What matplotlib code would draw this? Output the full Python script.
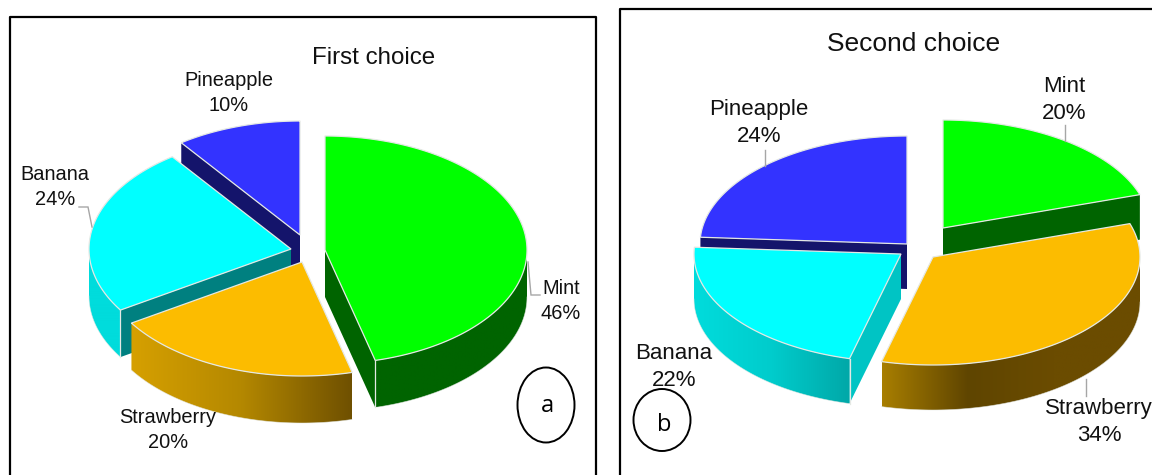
"""Two exploded 3D-look pies: first and second flavour choice."""

import numpy as np
import matplotlib

matplotlib.use("Agg")

import matplotlib.pyplot as plt
from matplotlib.colors import LinearSegmentedColormap
from matplotlib.patches import Ellipse, Polygon

plt.rcParams["font.family"] = ["Liberation Sans", "DejaVu Sans"]

# values, in drawing order clockwise from 12 o'clock
FLAVOURS = ["Mint", "Strawberry", "Banana", "Pineapple"]
FIRST_CHOICE = [46, 20, 24, 10]
SECOND_CHOICE = [20, 34, 22, 24]

TOP = {"Mint": "#00ff00", "Strawberry": "#fcbc00", "Banana": "#00ffff", "Pineapple": "#3333ff"}
FACE = {"Mint": "#006400", "Strawberry": "#7a5800", "Banana": "#008080", "Pineapple": "#14146b"}

EDGE = "#e4e8e4"
LEADER = "#a6a6a6"
DEPTH = 47
RX_A, RY_A = 202, 114
RX_B, RY_B = 207, 108

# layout in picture pixels: where each slice's tip landed after the explosion
TIPS_A = {"Mint": (325, 250), "Strawberry": (302, 262), "Banana": (291, 249), "Pineapple": (300, 235)}
TIPS_B = {"Mint": (943, 228), "Strawberry": (933, 257), "Banana": (901, 254), "Pineapple": (907, 244)}
PAINT_A = ["Pineapple", "Banana", "Mint", "Strawberry"]
PAINT_B = ["Mint", "Pineapple", "Banana", "Strawberry"]

# wall shades run left to right across the picture
WALLS_A = {
    "Mint": ["#006400", "#006400"],
    "Strawberry": ["#d6a000", "#b48800", "#6f5000"],
    "Banana": ["#00dcdc", "#00dcdc"],
    "Pineapple": ["#14146b", "#14146b"],
}
WALLS_B = {
    "Mint": ["#006400", "#006400"],
    "Strawberry": ["#a87e00", "#5f4500", "#6b4c00", "#6b4c00"],
    "Banana": ["#00dcdc", "#00cccc", "#00a8a8"],
    "Pineapple": ["#14146b", "#14146b"],
}
FACES_B = dict(FACE, Banana="#00c4c4")


def rim(tip, rx, ry, deg):
    rad = np.radians(deg)
    return np.column_stack([tip[0] + rx * np.sin(rad), tip[1] - ry * np.cos(rad)])


def face_visible(rx, ry, edge_deg, mid_deg):
    e = rim((0, 0), rx, ry, edge_deg)[0]
    m = rim((0, 0), rx, ry, mid_deg)[0]
    if abs(e[0]) < 1e-6:
        return False
    return m[1] < e[1] / e[0] * m[0]


def draw_slice(ax, tip, start, stop, rx, ry, depth, top, face, wall, z):
    mid = (start + stop) / 2
    # radial cut faces
    for edge_deg in (start, stop):
        if face_visible(rx, ry, edge_deg, mid):
            p = rim(tip, rx, ry, edge_deg)[0]
            ax.add_patch(Polygon(
                [tip, p, (p[0], p[1] + depth), (tip[0], tip[1] + depth)],
                closed=True, facecolor=face, edgecolor="none", zorder=z))

    # outer wall, only the front half of the rim shows
    lo, hi = max(start, 90), min(stop, 270)
    if hi > lo:
        pts = rim(tip, rx, ry, np.linspace(lo, hi, 120))
        outline = np.vstack([pts, pts[::-1] + (0, depth)])
        shape = Polygon(outline, closed=True, facecolor="none", edgecolor="none")
        ax.add_patch(shape)
        cmap = LinearSegmentedColormap.from_list("wall", wall)
        ramp = np.linspace(0, 1, 256).reshape(1, -1)
        img = ax.imshow(ramp, cmap=cmap, vmin=0, vmax=1,
                        extent=(pts[:, 0].min(), pts[:, 0].max(),
                                outline[:, 1].max(), outline[:, 1].min()),
                        aspect="auto", interpolation="bilinear", zorder=z)
        img.set_clip_path(shape)
        # soft rim so the clipped image does not look jagged
        ax.plot(outline[120:, 0], outline[120:, 1], color=EDGE, lw=0.5, alpha=0.7, zorder=z)
        # light corner where wall meets a cut face
        for d in (lo, hi):
            if d in (start, stop) and face_visible(rx, ry, d, mid):
                p = rim(tip, rx, ry, d)[0]
                ax.plot([p[0], p[0]], [p[1], p[1] + depth], color=EDGE, lw=0.9, zorder=z)

    # top surface
    deg = np.linspace(start, stop, 160)
    outline = np.vstack([[tip], rim(tip, rx, ry, deg)])
    ax.add_patch(Polygon(outline, closed=True, facecolor=top, edgecolor=EDGE,
                         linewidth=0.9, joinstyle="miter", zorder=z + 0.5))


def draw_pie(ax, values, tips, paint, rx, ry, depth, walls, faces):
    stops = np.cumsum(values) / np.sum(values) * 360
    starts = np.r_[0, stops[:-1]]
    spans = {f: (a, b) for f, a, b in zip(FLAVOURS, starts, stops)}
    for order, f in enumerate(paint):
        draw_slice(ax, tips[f], *spans[f], rx, ry, depth, TOP[f], faces[f], walls[f], 1 + order)


def label(ax, x, y, name, value, size=14.4, spacing=1.42):
    ax.text(x, y, f"{name}\n{value}%", ha="center", va="center", fontsize=size,
            linespacing=spacing, color="#111111", zorder=10)


def leader(ax, xs, ys):
    ax.plot(xs, ys, color=LEADER, lw=1, zorder=9, solid_joinstyle="miter")


fig = plt.figure(figsize=(11.52, 4.75), dpi=100)
ax = fig.add_axes([0, 0, 1, 1])
ax.axis("off")

# panel frames run off the bottom / right of the picture
ax.plot([10, 10, 596, 596], [480, 17, 17, 480], color="black", lw=1.6, zorder=0)
ax.plot([620, 620, 1160], [480, 9, 9], color="black", lw=1.6, zorder=0)

draw_pie(ax, FIRST_CHOICE, TIPS_A, PAINT_A, RX_A, RY_A, DEPTH, WALLS_A, FACE)
draw_pie(ax, SECOND_CHOICE, TIPS_B, PAINT_B, RX_B, RY_B, DEPTH - 2, WALLS_B, FACES_B)

ax.set_xlim(0, 1152)
ax.set_ylim(475, 0)

ax.text(374, 58, "First choice", ha="center", va="center", fontsize=17.4, color="#111111")
ax.text(914, 44, "Second choice", ha="center", va="center", fontsize=19, color="#111111")

label(ax, 229, 93, FLAVOURS[3], FIRST_CHOICE[3])
label(ax, 55, 187, FLAVOURS[2], FIRST_CHOICE[2])
label(ax, 168, 430, FLAVOURS[1], FIRST_CHOICE[1])
label(ax, 561, 301, FLAVOURS[0], FIRST_CHOICE[0])
leader(ax, [92, 88, 79], [227, 207, 207])
leader(ax, [528, 531, 540], [262, 295, 295])

label(ax, 759, 123, FLAVOURS[3], SECOND_CHOICE[3], size=16, spacing=1.35)
label(ax, 674, 367, FLAVOURS[2], SECOND_CHOICE[2], size=16, spacing=1.35)
label(ax, 1099, 422, FLAVOURS[1], SECOND_CHOICE[1], size=16, spacing=1.35)
label(ax, 1064, 100, FLAVOURS[0], SECOND_CHOICE[0], size=16, spacing=1.35)
leader(ax, [1065, 1065], [125, 141])
leader(ax, [765, 765], [150, 166])
leader(ax, [1086, 1086], [379, 396])

ax.add_patch(Ellipse((546, 405), 57, 75, facecolor="white", edgecolor="black", lw=1.4, zorder=9))
ax.add_patch(Ellipse((662, 420), 57, 62, facecolor="none", edgecolor="black", lw=1.4, zorder=11))
ax.text(547, 406, "a", ha="center", va="center", fontsize=17, family="Open Sans", zorder=12)
ax.text(664, 425, "b", ha="center", va="center", fontsize=17, family="Open Sans", zorder=12)

fig.savefig("out.png", dpi=100, facecolor="white")
